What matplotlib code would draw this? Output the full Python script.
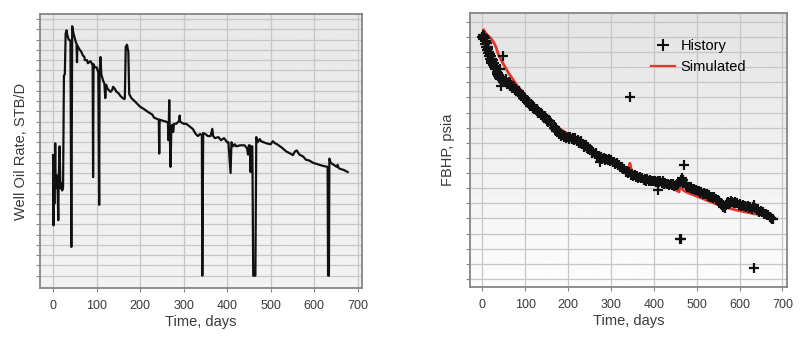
import numpy as np
import matplotlib
matplotlib.use('Agg')
import matplotlib.pyplot as plt
from matplotlib.lines import Line2D

plt.rcParams['font.family'] = ['Liberation Sans', 'DejaVu Sans']

# ---- left panel: well oil rate (y axis unlabelled, gridline units) ----
rate_day = [0, 1, 2, 3, 5, 6, 8, 10, 12, 13, 15, 17, 19, 21, 23, 25, 27, 29, 31, 33,
            36, 40, 42, 44, 47, 52, 54, 55, 56, 60, 65, 68, 72, 73, 78, 80, 86, 90,
            91, 92, 93, 96, 100, 104, 106, 107, 109, 111, 115, 118, 120, 122, 125,
            128, 132, 136, 138, 142, 146, 150, 155, 160, 164, 165, 167, 170, 173,
            175, 180, 190, 199, 210, 220, 228, 232, 243, 244, 245, 252, 260, 264,
            265, 266, 267, 268, 270, 272, 274, 276, 278, 283, 290, 291, 292, 300,
            306, 315, 321, 328, 333, 338, 342, 343, 345, 350, 356, 362, 366, 368,
            372, 380, 386, 393, 400, 403, 408, 410, 414, 418, 421, 430, 440, 446,
            448, 450, 452, 454, 456, 458, 460, 465, 467, 470, 475, 478, 490, 500,
            505, 510, 515, 525, 536, 545, 551, 556, 560, 566, 575, 581, 590, 597,
            605, 612, 620, 631, 632, 634, 635, 638, 645, 652, 654, 656, 660, 668, 677]
rate_val = [11.75, 4.9, 9.5, 7.0, 12.9, 8.5, 9.8, 9.4, 5.4, 9.5, 12.6, 8.5, 9.0, 8.3,
            8.6, 19.5, 19.6, 23.6, 23.9, 23.4, 23.0, 22.9, 2.8, 24.3, 23.6, 22.8,
            22.6, 20.8, 22.4, 22.1, 21.8, 21.5, 21.3, 21.0, 21.0, 20.7, 20.9, 20.6,
            20.6, 9.6, 20.6, 20.3, 20.3, 19.8, 6.9, 19.8, 21.3, 19.6, 19.0, 18.7,
            17.3, 18.6, 18.2, 18.1, 17.9, 18.1, 18.4, 18.2, 17.9, 17.8, 17.5, 17.3,
            17.2, 17.3, 22.3, 22.5, 21.8, 17.7, 17.3, 16.9, 16.5, 16.2, 15.9, 15.7,
            15.4, 15.2, 11.9, 15.2, 15.1, 15.0, 14.9, 13.2, 14.8, 17.1, 14.5, 10.6,
            14.6, 14.7, 14.0, 14.8, 14.8, 15.1, 15.6, 15.0, 14.8, 14.8, 14.5, 14.3,
            13.8, 13.6, 13.8, 13.7, 0.0, 13.9, 13.8, 13.6, 13.6, 14.3, 13.6, 13.4,
            13.5, 13.2, 13.4, 13.0, 13.0, 10.0, 13.0, 12.6, 12.8, 12.6, 12.7, 12.7,
            12.4, 11.8, 12.7, 12.7, 10.1, 12.6, 12.6, 0.0, 0.0, 13.5, 13.0, 13.3,
            13.1, 12.9, 12.8, 13.1, 12.9, 12.8, 12.5, 12.1, 11.9, 11.75, 12.1, 12.2,
            11.8, 11.6, 11.3, 11.2, 11.0, 10.9, 10.8, 10.7, 10.6, 0.0, 0.0, 11.4,
            11.0, 10.8, 10.6, 10.8, 10.5, 10.4, 10.3, 10.1]

# ---- right panel: flowing bottom-hole pressure ----
hist_day = [0, 1, 2, 3, 4, 5, 6, 7, 8, 9, 10, 11, 12, 13, 14, 15, 16, 17, 18, 19, 20,
            21, 22, 24, 25, 27, 28, 30, 31, 33, 34, 36, 37, 39, 40, 41, 43, 44, 46, 47,
            49, 52, 55, 58, 61, 64, 67, 70, 73, 76, 79, 82, 85, 88, 91, 94, 97, 100,
            103, 106, 109, 112, 115, 118, 121, 124, 127, 130, 133, 136, 139, 142, 145,
            148, 151, 154, 157, 160, 163, 166, 169, 172, 175, 178, 181, 184, 187, 190,
            193, 196, 199, 202, 205, 208, 211, 214, 217, 220, 223, 226, 229, 232, 235,
            238, 241, 244, 247, 250, 253, 256, 259, 262, 265, 268, 271, 274, 277, 280,
            283, 286, 289, 292, 295, 298, 301, 304, 307, 310, 313, 316, 319, 322, 325,
            328, 331, 334, 337, 340, 343, 346, 349, 352, 355, 358, 361, 364, 367, 370,
            373, 376, 379, 382, 385, 388, 391, 394, 397, 400, 403, 406, 409, 412, 415,
            418, 421, 424, 427, 430, 433, 436, 439, 442, 445, 448, 451, 454, 457, 460,
            463, 466, 469, 472, 475, 478, 481, 484, 487, 490, 493, 496, 499, 502, 505,
            508, 511, 514, 517, 520, 523, 526, 529, 532, 535, 538, 541, 544, 547, 550,
            553, 556, 559, 562, 565, 568, 571, 574, 577, 580, 583, 586, 589, 592, 595,
            598, 601, 604, 607, 610, 613, 616, 619, 622, 625, 628, 631, 634, 637, 640,
            643, 646, 649, 652, 655, 658, 661, 664, 667, 670, 673, 676, 678,
            344, 470, 410, 462, 464, 633]
hist_val = [16.0, 16.1, 15.85, 16.05, 15.9, 15.7, 15.95, 15.5, 15.75, 15.3, 15.6, 15.1,
            15.35, 14.9, 15.2, 14.7, 15.0, 14.55, 14.85, 14.4, 14.7, 14.3, 14.55, 14.15,
            14.45, 14.0, 14.3, 13.85, 14.1, 13.7, 13.55, 13.4, 13.6, 13.3, 13.2, 13.9,
            13.35, 12.75, 13.25, 14.7, 13.2, 13.1, 13.2, 12.9, 13.0, 12.75, 12.8, 12.6,
            12.7, 12.5, 12.55, 12.35, 12.4, 12.15, 12.2, 11.95, 12.0, 11.8, 11.85, 11.6,
            11.7, 11.45, 11.5, 11.3, 11.35, 11.15, 11.2, 11.0, 11.05, 10.85, 10.9, 10.7,
            10.75, 10.55, 10.6, 10.4, 10.45, 10.2, 10.25, 10.0, 10.05, 9.8, 9.85, 9.6,
            9.65, 9.45, 9.5, 9.35, 9.45, 9.3, 9.35, 9.25, 9.35, 9.25, 9.3, 9.2, 9.3,
            9.15, 9.2, 9.0, 9.1, 8.9, 8.95, 8.75, 8.85, 8.65, 8.7, 8.5, 8.55, 8.35, 8.4,
            8.25, 8.3, 8.1, 8.15, 7.75, 8.05, 7.95, 8.0, 7.85, 7.95, 7.85, 7.9, 7.8,
            7.85, 7.7, 7.75, 7.6, 7.65, 7.5, 7.55, 7.4, 7.4, 7.25, 7.3, 7.1, 7.15, 7.0,
            7.05, 6.9, 6.95, 6.8, 6.85, 6.75, 6.8, 6.7, 6.75, 6.65, 6.7, 6.55, 6.6,
            6.5, 6.6, 6.5, 6.55, 6.45, 6.5, 6.45, 6.5, 6.4, 6.5, 6.4, 6.45, 6.35, 6.45,
            6.3, 6.35, 6.25, 6.3, 6.2, 6.3, 6.2, 6.25, 6.15, 6.2, 6.2, 6.3, 6.4, 6.55,
            6.7, 6.55, 6.35, 6.2, 6.1, 6.05, 6.0, 6.05, 5.95, 5.95, 5.85, 5.9, 5.8, 5.8,
            5.7, 5.75, 5.65, 5.7, 5.6, 5.65, 5.5, 5.55, 5.45, 5.45, 5.35, 5.4, 5.3,
            5.25, 5.2, 5.15, 5.05, 4.9, 4.75, 4.7, 4.9, 5.0, 5.1, 5.05, 5.15, 5.1, 5.05,
            5.1, 5.0, 5.0, 4.9, 4.95, 4.85, 4.9, 4.8, 4.85, 4.75, 4.8, 4.7, 4.75, 4.65,
            4.75, 4.9, 4.7, 4.55, 4.55, 4.45, 4.5, 4.4, 4.4, 4.3, 4.3, 4.2, 4.2, 4.1,
            4.05, 3.95, 3.95,
            12.0, 7.55, 5.85, 2.64, 2.64, 0.73]

sim_day = [3, 10, 20, 27, 32, 37, 44, 60, 83, 114, 145, 184, 215, 246, 277, 316, 342,
           344, 346, 348, 378, 398, 430, 453, 459, 461, 463, 467, 475, 515, 554, 593,
           632, 678]
sim_val = [16.45, 16.15, 15.9, 15.6, 15.3, 14.85, 14.45, 13.65, 12.7, 11.7, 10.8, 9.85,
           9.3, 8.75, 8.2, 7.6, 7.2, 7.65, 7.4, 7.1, 6.75, 6.45, 6.15, 5.85, 5.75, 6.3,
           6.15, 5.9, 5.75, 5.3, 4.85, 4.55, 4.32, 4.12]

x_ticks = [0, 100, 200, 300, 400, 500, 600, 700]

frame = '#858585'
txt = '#3a3a3a'

fig = plt.figure(figsize=(8, 3.4), dpi=100)
ax1 = fig.add_axes([0.05, 0.153, 0.4025, 0.806])
ax2 = fig.add_axes([0.588, 0.157, 0.396, 0.806])


def style(ax, top_c, bot_c, n_grid, ylo, yhi, xlo, xhi):
    grad = np.linspace(top_c, bot_c, 256).reshape(-1, 1)
    ax.imshow(grad, cmap='gray', vmin=0, vmax=1, aspect='auto',
              extent=[0, 1, 0, 1], transform=ax.transAxes, zorder=-1)
    ax.set_xlim(xlo, xhi)
    ax.set_ylim(ylo, yhi)
    ax.set_xticks(x_ticks)
    ax.set_yticks(range(n_grid))
    ax.set_yticklabels([])
    ax.grid(True, color='#c6c6c6', lw=0.9)
    ax.set_axisbelow(True)
    for s in ax.spines.values():
        s.set_color(frame)
        s.set_linewidth(1.3)
    ax.tick_params(colors=frame, labelcolor=txt, length=3, width=0.8,
                   labelsize=9, pad=6)
    ax.set_xlabel('Time, days', fontsize=10.5, color=txt, labelpad=2)


style(ax1, 0.91, 0.95, 26, -1.2, 25.5, -30, 710)
ax1.plot(rate_day, rate_val, color='#111111', lw=1.6, zorder=3)
ax1.set_ylabel('Well Oil Rate, STB/D', fontsize=10.5, color=txt)
ax1.yaxis.set_label_coords(-0.037, 0.5)

style(ax2, 0.89, 0.99, 18, -0.5, 17.6, -28, 711)
ax2.plot(sim_day, sim_val, color='#e8352b', lw=2.0, zorder=2)
ax2.plot(hist_day, hist_val, ls='none', marker='+', ms=6.5, mew=1.6,
         color='#111111', zorder=3)
ax2.set_ylabel('FBHP, psia', fontsize=10.5, color=txt)
ax2.yaxis.set_label_coords(-0.048, 0.5)

handles = [Line2D([], [], ls='none', marker='+', ms=8, mew=1.5, color='#111111'),
           Line2D([], [], color='#e8352b', lw=1.6)]
ax2.legend(handles, ['History', 'Simulated'], loc='upper left',
           bbox_to_anchor=(0.53, 0.95), frameon=False, fontsize=10.5,
           handlelength=1.6, handletextpad=0.4, labelspacing=0.45)

fig.savefig('out.png', dpi=100)
